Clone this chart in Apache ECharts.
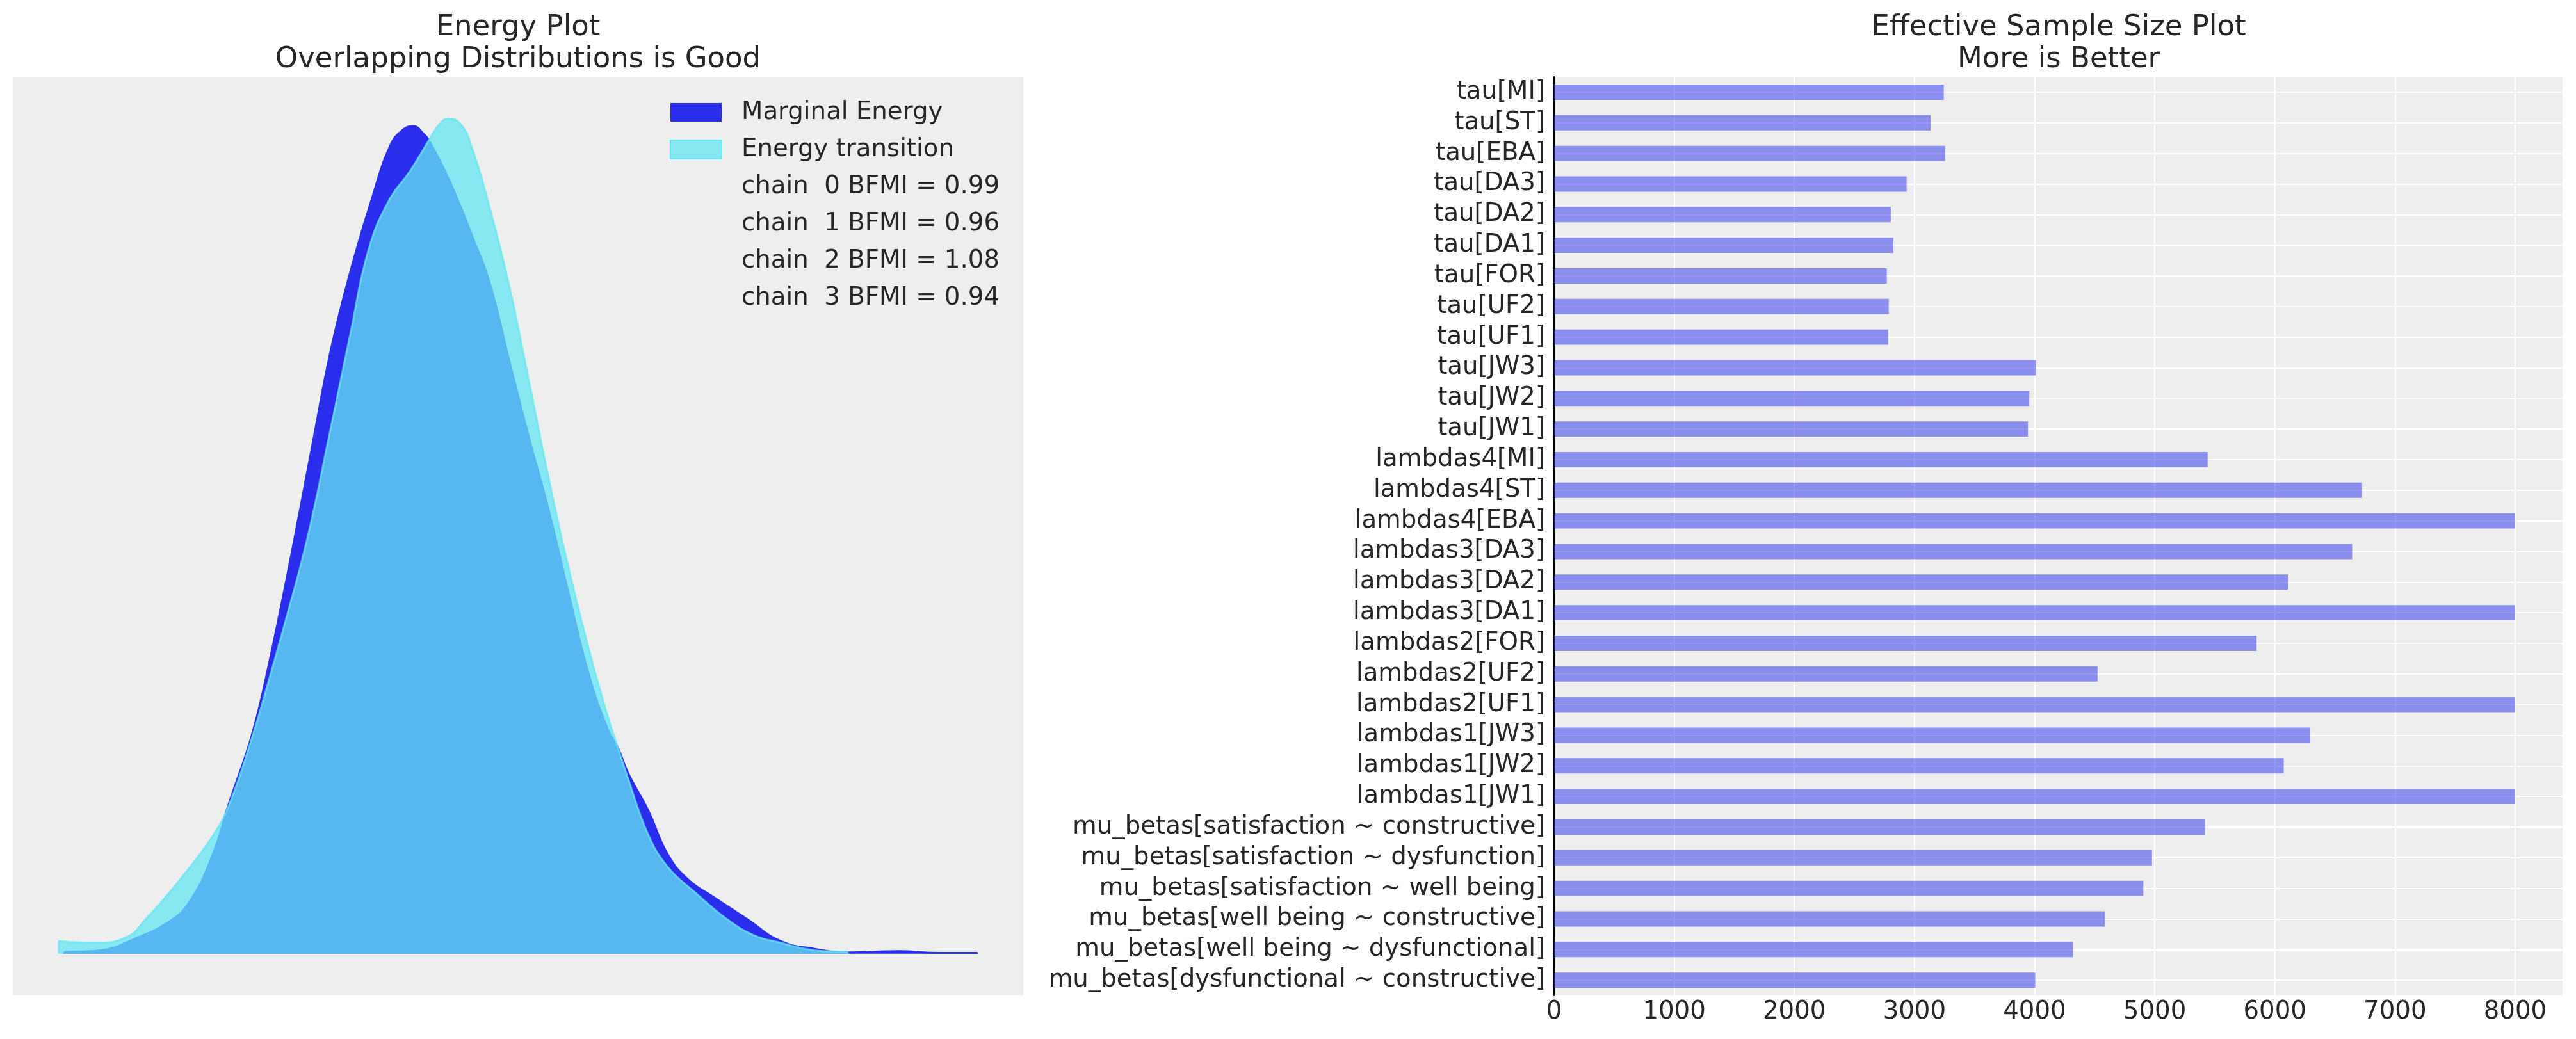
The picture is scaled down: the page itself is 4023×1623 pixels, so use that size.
<!DOCTYPE html>
<html>
<head>
<meta charset="utf-8">
<script src="https://cdn.jsdelivr.net/npm/echarts/dist/echarts.min.js"></script>
<style>
html,body{margin:0;padding:0;background:#ffffff;}
#chart{width:4023px;height:1623px;}
</style>
</head>
<body>
<div id="chart"></div>
<script>
// ---------- data ----------
const essCategories = [
  'tau[MI]','tau[ST]','tau[EBA]','tau[DA3]','tau[DA2]','tau[DA1]','tau[FOR]','tau[UF2]','tau[UF1]',
  'tau[JW3]','tau[JW2]','tau[JW1]',
  'lambdas4[MI]','lambdas4[ST]','lambdas4[EBA]',
  'lambdas3[DA3]','lambdas3[DA2]','lambdas3[DA1]',
  'lambdas2[FOR]','lambdas2[UF2]','lambdas2[UF1]',
  'lambdas1[JW3]','lambdas1[JW2]','lambdas1[JW1]',
  'mu_betas[satisfaction ~ constructive]','mu_betas[satisfaction ~ dysfunction]',
  'mu_betas[satisfaction ~ well being]','mu_betas[well being ~ constructive]',
  'mu_betas[well being ~ dysfunctional]','mu_betas[dysfunctional ~ constructive]'
];
const essValues = [
  3244, 3134, 3255, 2935, 2803, 2825, 2770, 2786, 2781,
  4011, 3956, 3945,
  5440, 6726, 8000,
  6643, 6108, 8000,
  5848, 4524, 8000,
  6295, 6074, 8000,
  5418, 4977, 4905, 4585, 4320, 4006
];
const essTickInterval = 1000;

const marginalX = [0.6, 4.8, 8.3, 11.8, 14.1, 16.7, 18.5, 21.0, 22.8, 25.3, 27.5, 29.6, 31.8, 34.0, 36.1, 37.5, 38.6, 39.7, 40.3,
  42.6, 45.1, 46.9, 49.1, 51.2, 53.4, 55.5, 57.7, 59.8, 60.9, 62.0, 64.2, 66.3, 68.5, 71.4, 75.0, 78.6, 82.2, 85.8, 91.5, 95.8, 100];
const marginalY = [0.0015, 0.0045, 0.018, 0.037, 0.060, 0.117, 0.179, 0.261, 0.343, 0.477, 0.603, 0.722, 0.819, 0.901, 0.968, 0.987, 0.991, 0.982, 0.974,
  0.924, 0.857, 0.804, 0.708, 0.618, 0.529, 0.432, 0.335, 0.268, 0.246, 0.216, 0.171, 0.119, 0.089, 0.067, 0.041, 0.015, 0.006, 0.0015, 0.003, 0.001, 0.001];

const transitionX = [0, 4.1, 7.6, 9.5, 11.1, 13.8, 16.7, 18.5, 21.0, 22.4, 24.6, 27.1, 29.4, 31.8, 33.7, 35.9, 38.3, 40.3, 41.5, 42.4,
  43.7, 44.9, 46.9, 49.1, 51.2, 53.4, 55.5, 57.7, 59.8, 60.9, 62.0, 64.2, 66.3, 69.2, 72.8, 75.7, 78.6, 82.2, 85.9];
const transitionY = [0.015, 0.013, 0.021, 0.042, 0.061, 0.097, 0.140, 0.177, 0.257, 0.309, 0.395, 0.499, 0.618, 0.745, 0.842, 0.901, 0.938, 0.974, 0.994, 1.0,
  0.994, 0.968, 0.894, 0.797, 0.685, 0.566, 0.462, 0.365, 0.283, 0.246, 0.209, 0.142, 0.104, 0.074, 0.041, 0.022, 0.013, 0.004, 0.0015];

const energySeriesNames = ['Marginal Energy', 'Energy transition'];
const bfmiChains = [0, 1, 2, 3];
const bfmiValues = ['0.99', '0.96', '1.08', '0.94'];

const leftTitle = 'Energy Plot\nOverlapping Distributions is Good';
const rightTitle = 'Effective Sample Size Plot\nMore is Better';

// ---------- build ----------
function curve(xs, ys) {
  const pts = xs.map((x, i) => [x, ys[i]]);
  return [[xs[0], 0]].concat(pts, [[xs[xs.length - 1], 0]]);
}
const bfmiNames = bfmiChains.map((c, i) => 'chain  ' + c + ' BFMI = ' + bfmiValues[i]);

const FONT = 'DejaVu Sans';
const TXT = '#262626';
const BG = '#eeeeee';
const FS = 38.7;
const TFS = 45;

const option = {
  animation: false,
  backgroundColor: '#ffffff',
  textStyle: { fontFamily: FONT, color: TXT },
  title: [
    { text: leftTitle, left: 809, top: 18, textAlign: 'center', padding: 0,
      textStyle: { fontFamily: FONT, fontSize: TFS, fontWeight: 'normal', color: TXT, lineHeight: 50 } },
    { text: rightTitle, left: 3215, top: 18, textAlign: 'center', padding: 0,
      textStyle: { fontFamily: FONT, fontSize: TFS, fontWeight: 'normal', color: TXT, lineHeight: 50 } }
  ],
  grid: [
    { left: 20, top: 120, width: 1578, height: 1435, show: true, backgroundColor: BG, borderWidth: 0,
      containLabel: false, outerBoundsMode: 'none' },
    { left: 2427, top: 120, width: 1576, height: 1435, show: true, backgroundColor: BG, borderWidth: 0,
      containLabel: false, outerBoundsMode: 'none' }
  ],
  xAxis: [
    { gridIndex: 0, type: 'value', min: -5, max: 105, show: false },
    { gridIndex: 1, type: 'value', min: 0, max: 8400, interval: essTickInterval,
      axisLine: { show: false }, axisTick: { show: false },
      axisLabel: { fontSize: FS, color: TXT, fontFamily: FONT, margin: 6, showMaxLabel: false,
        formatter: v => String(v) },
      splitLine: { show: true, lineStyle: { color: '#ffffff', width: 2 } } }
  ],
  yAxis: [
    { gridIndex: 0, type: 'value', min: -0.05, max: 1.05, show: false },
    { gridIndex: 1, type: 'category', data: essCategories, inverse: true,
      axisLine: { show: true, lineStyle: { color: '#000000', width: 2 } },
      axisTick: { show: false },
      axisLabel: { fontSize: FS, color: TXT, fontFamily: FONT, margin: 14, interval: 0, hideOverlap: false },
      splitLine: { show: true, alignWithLabel: true, interval: 0, lineStyle: { color: '#ffffff', width: 2 } } }
  ],
  legend: {
    orient: 'vertical', left: 1046, top: 156, padding: 0,
    itemWidth: 80, itemHeight: 29, itemGap: 19, selectedMode: false,
    textStyle: { fontSize: FS, color: TXT, fontFamily: FONT, lineHeight: 39, padding: [0, 0, 0, 26] },
    data: [
      { name: energySeriesNames[0], icon: 'rect', itemStyle: { color: '#2a2eec', borderWidth: 0 } },
      { name: energySeriesNames[1], icon: 'rect', itemStyle: { color: 'rgba(101,229,243,0.75)', borderColor: 'rgba(101,229,243,0.9)', borderWidth: 2 } }
    ].concat(bfmiNames.map(n => ({ name: n, icon: 'rect', itemStyle: { opacity: 0 }, lineStyle: { opacity: 0 } })))
  },
  series: [
    { name: energySeriesNames[0], type: 'line', xAxisIndex: 0, yAxisIndex: 0,
      data: curve(marginalX, marginalY), smooth: 0.45, showSymbol: false, symbol: 'none',
      lineStyle: { color: '#2a2eec', width: 3 }, itemStyle: { color: '#2a2eec' },
      areaStyle: { color: '#2a2eec', opacity: 1 }, z: 2 },
    { name: energySeriesNames[1], type: 'line', xAxisIndex: 0, yAxisIndex: 0,
      data: curve(transitionX, transitionY), smooth: 0.45, showSymbol: false, symbol: 'none',
      lineStyle: { color: '#65e5f3', width: 3, opacity: 0.75 }, itemStyle: { color: '#65e5f3' },
      areaStyle: { color: '#65e5f3', opacity: 0.75 }, z: 3 }
  ].concat(bfmiNames.map(n => ({ name: n, type: 'line', xAxisIndex: 0, yAxisIndex: 0, data: [],
      itemStyle: { opacity: 0 }, lineStyle: { opacity: 0 } })))
   .concat([{
      name: 'ESS', type: 'bar', xAxisIndex: 1, yAxisIndex: 1, data: essValues, barWidth: '50%',
      itemStyle: { color: 'rgba(42,46,236,0.5)' }
   }])
};

const chart = echarts.init(document.getElementById('chart'), null, { renderer: 'canvas', width: 4023, height: 1623 });
chart.setOption(option);
</script>
</body>
</html>
